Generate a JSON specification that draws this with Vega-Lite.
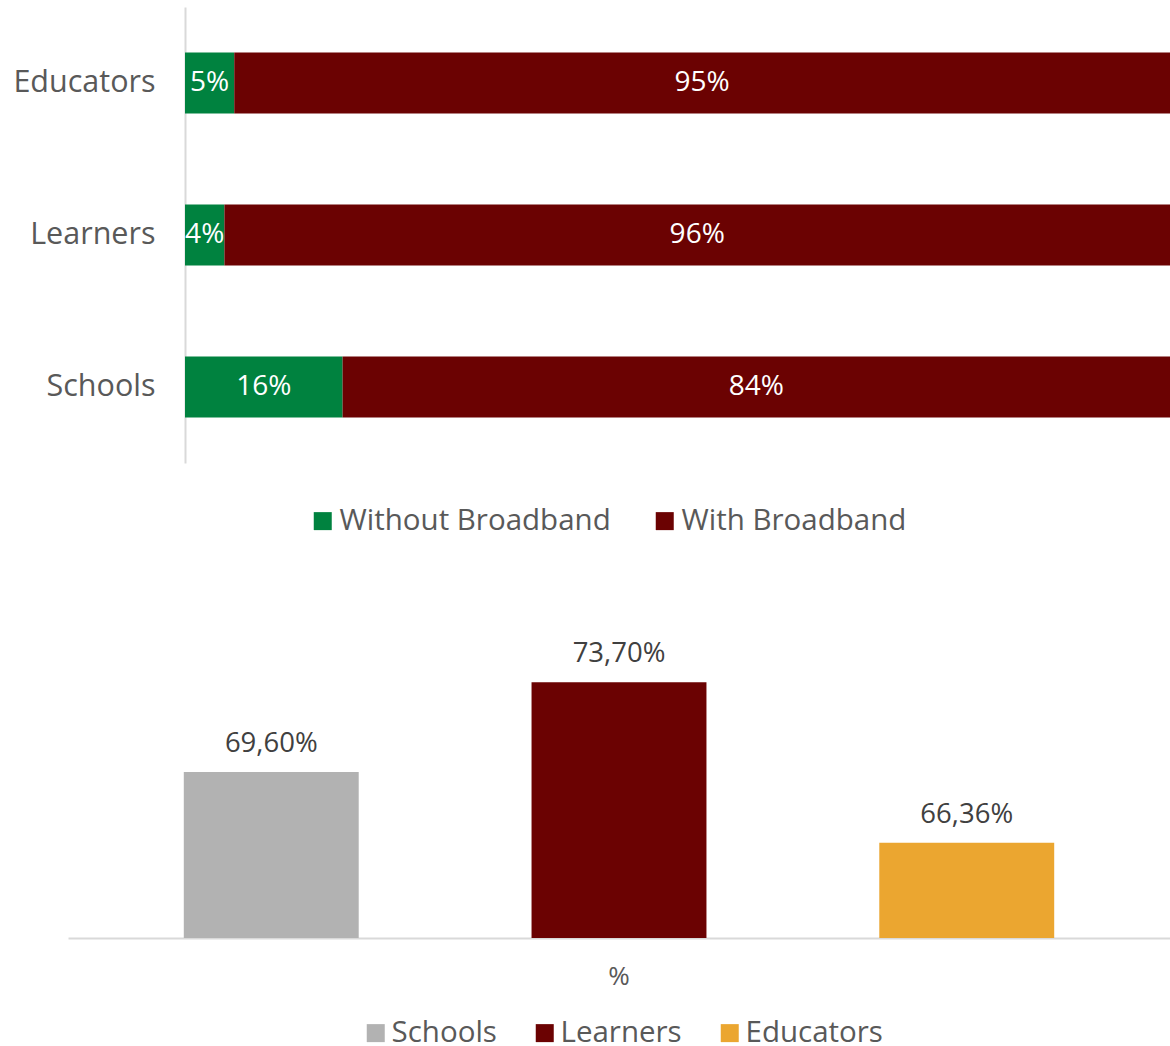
{
  "$schema": "https://vega.github.io/schema/vega-lite/v6.json",
  "padding": {"left": 0, "top": 7, "right": 0, "bottom": 0},
  "config": {
    "view": {"stroke": null},
    "font": "Open Sans",
    "axis": {"grid": false},
    "legend": {"padding": 0},
    "locale": {"number": {"decimal": ",", "thousands": ".", "grouping": [3], "currency": ["", " €"]}},
    "concat": {"spacing": 96}
  },
  "columns": 1,
  "resolve": {"scale": {"color": "independent"}, "legend": {"color": "independent"}},
  "concat": [
    {
      "width": 1102,
      "height": 456,
      "data": {"values": [
        {"group": "Educators", "series": "Without Broadband", "share": 0.05},
        {"group": "Educators", "series": "With Broadband", "share": 0.95},
        {"group": "Learners", "series": "Without Broadband", "share": 0.04},
        {"group": "Learners", "series": "With Broadband", "share": 0.96},
        {"group": "Schools", "series": "Without Broadband", "share": 0.16},
        {"group": "Schools", "series": "With Broadband", "share": 0.84}
      ]},
      "encoding": {
        "y": {
          "field": "group", "type": "nominal",
          "sort": ["Educators", "Learners", "Schools"],
          "scale": {"paddingInner": 0.6, "paddingOuter": 0.3},
          "axis": {"title": null, "ticks": false, "offset": -117, "labelFontSize": 30.5, "labelColor": "#595959", "labelPadding": 30, "domainColor": "#d9d9d9", "domainWidth": 2, "minExtent": 185, "maxExtent": 185}
        }
      },
      "layer": [
        {
          "mark": {"type": "bar"},
          "encoding": {
            "x": {"field": "share", "type": "quantitative", "stack": "zero", "scale": {"domain": [0, 1], "range": [117, 1102]}, "axis": null},
            "color": {
              "field": "series", "type": "nominal",
              "scale": {"domain": ["Without Broadband", "With Broadband"], "range": ["#00823F", "#6B0202"]},
              "legend": {"title": null, "orient": "none", "legendX": 240, "legendY": 499, "direction": "horizontal", "symbolType": "square", "symbolSize": 324, "symbolStrokeWidth": 0, "labelFontSize": 29.5, "labelLimit": 500, "labelColor": "#595959", "columnPadding": 39, "labelOffset": 2}
            },
            "order": {"field": "series", "sort": "descending"}
          }
        },
        {
          "mark": {"type": "text", "color": "#ffffff", "fontSize": 28},
          "encoding": {
            "x": {"field": "share", "type": "quantitative", "stack": "zero", "bandPosition": 0.5},
            "detail": {"field": "series"},
            "order": {"field": "series", "sort": "descending"},
            "text": {"field": "share", "format": ".0%"}
          }
        }
      ]
    },
    {
      "width": 1102,
      "height": 306,
      "data": {"values": [
        {"cat": "%", "group": "Schools", "value": 0.696},
        {"cat": "%", "group": "Learners", "value": 0.737},
        {"cat": "%", "group": "Educators", "value": 0.6636}
      ]},
      "encoding": {
        "x": {
          "field": "cat", "type": "nominal",
          "scale": {"paddingInner": 0, "paddingOuter": 0},
          "axis": {"title": null, "labelAngle": 0, "ticks": false, "domainColor": "#d9d9d9", "domainWidth": 2, "labelFontSize": 26, "labelColor": "#595959", "labelPadding": 25}
        },
        "xOffset": {
          "field": "group", "type": "nominal",
          "sort": ["Schools", "Learners", "Educators"],
          "scale": {"paddingInner": 0.497, "paddingOuter": 0.333}
        },
        "y": {
          "field": "value", "type": "quantitative",
          "scale": {"domain": [0.62, 0.76], "zero": false},
          "axis": {"title": null, "labels": false, "ticks": false, "domain": false, "grid": false, "minExtent": 68, "maxExtent": 68}
        }
      },
      "layer": [
        {
          "mark": {"type": "bar", "clip": true},
          "encoding": {
            "color": {
              "field": "group", "type": "nominal",
              "scale": {"domain": ["Schools", "Learners", "Educators"], "range": ["#B2B2B2", "#6B0202", "#EBA630"]},
              "legend": {"title": null, "orient": "none", "legendX": 293, "legendY": 386, "direction": "horizontal", "symbolType": "square", "symbolSize": 324, "symbolStrokeWidth": 0, "labelFontSize": 29.5, "labelLimit": 500, "labelColor": "#595959", "columnPadding": 33, "labelOffset": 1}
            }
          }
        },
        {
          "mark": {"type": "text", "dy": -28, "fontSize": 27.5, "color": "#404040"},
          "encoding": {
            "text": {"field": "value", "format": ".2%"}
          }
        }
      ]
    }
  ]
}
